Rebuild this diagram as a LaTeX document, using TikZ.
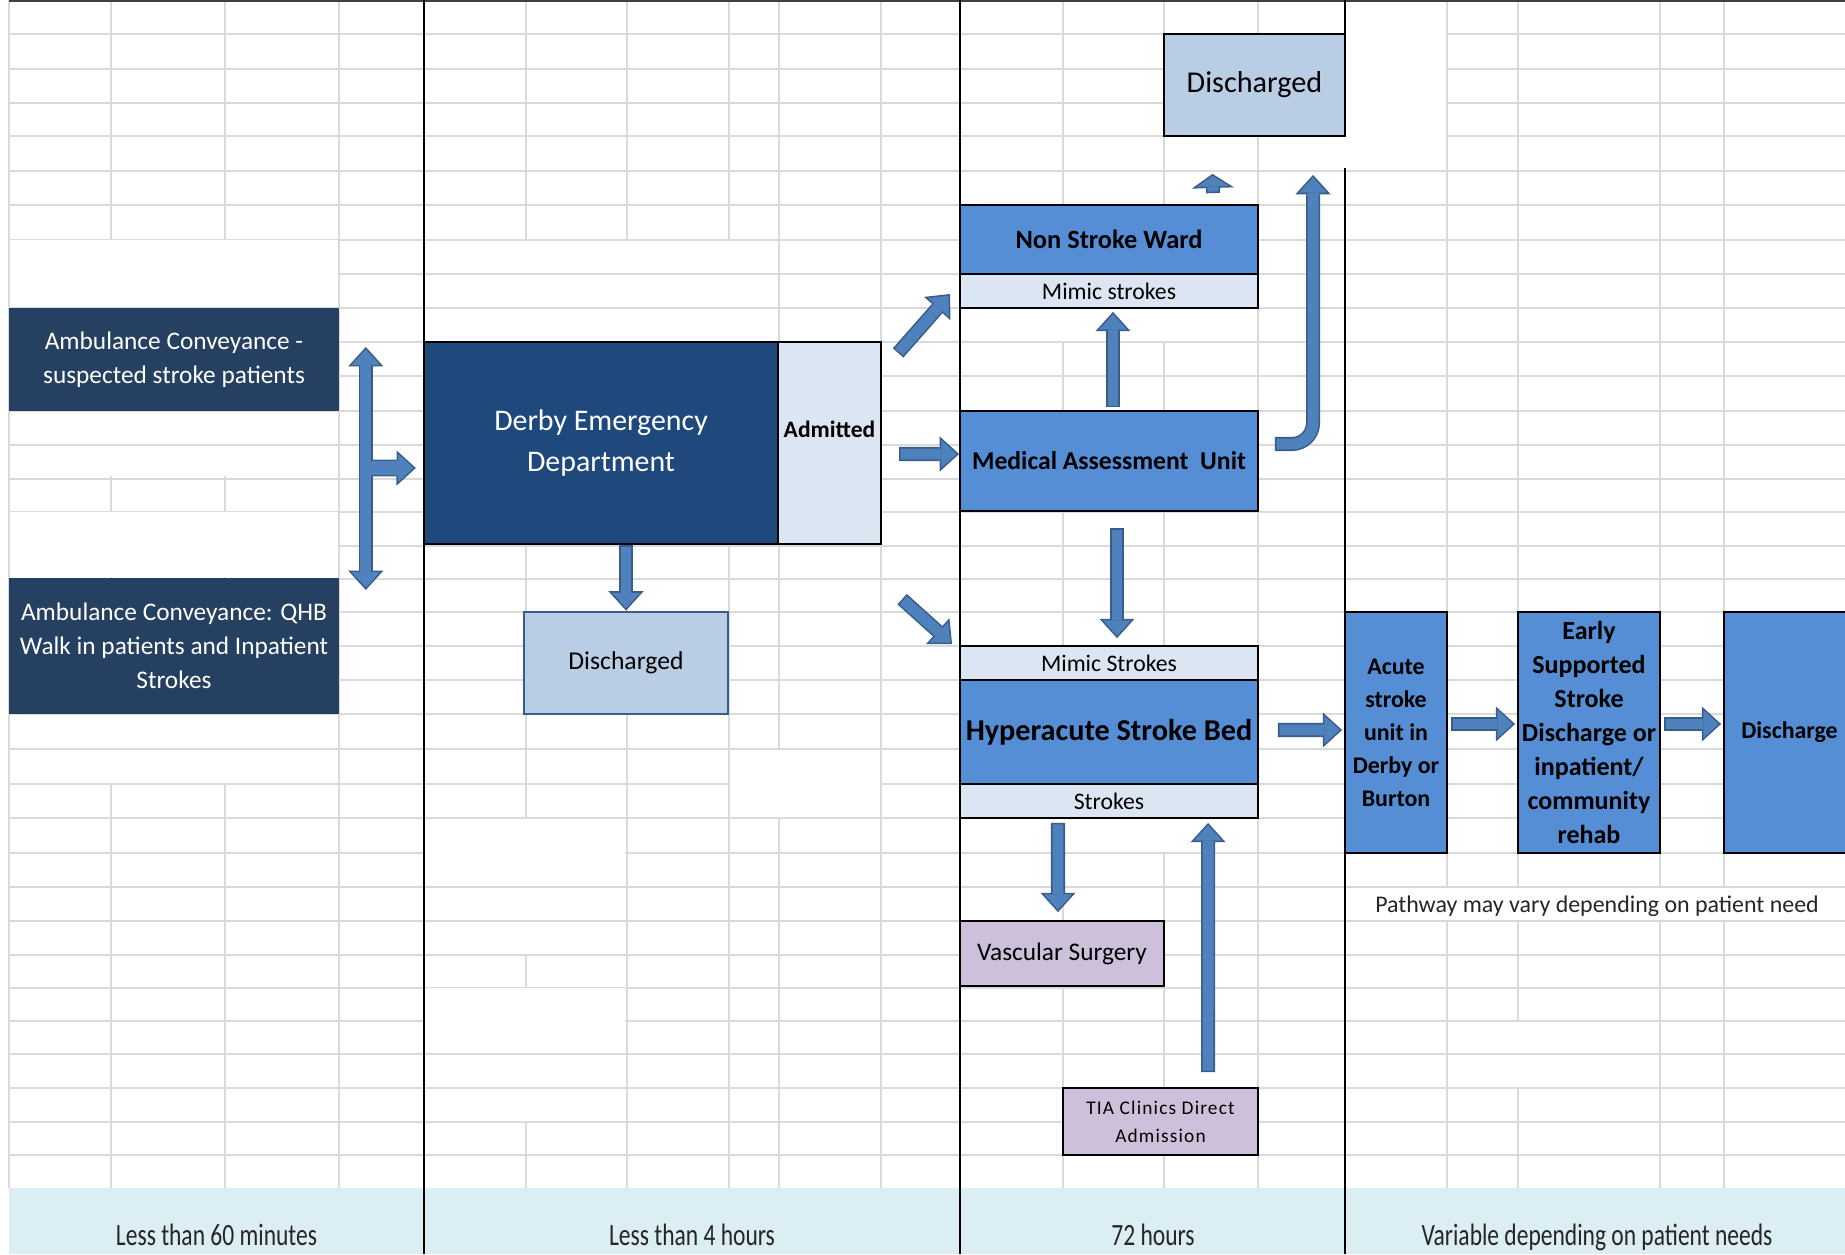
\documentclass[tikz,border=0pt]{standalone}
\usepackage{fontspec}
\setmainfont{Carlito}
\usepackage{graphicx}
\usetikzlibrary{arrows.meta}

\definecolor{ambnavy}{RGB}{37,64,97}
\definecolor{ednavy}{RGB}{31,73,125}
\definecolor{paleblue}{RGB}{185,205,229}
\definecolor{palegrey}{RGB}{220,230,242}
\definecolor{wardblue}{RGB}{85,142,213}
\definecolor{lilac}{RGB}{204,192,218}
\definecolor{arrowfill}{RGB}{79,129,189}
\definecolor{arrowedge}{RGB}{56,93,138}
\definecolor{bandblue}{RGB}{218,238,243}
\definecolor{gridgrey}{RGB}{218,218,218}

\begin{document}
\begin{tikzpicture}[x=0.01cm,y=-0.01cm,inner sep=0pt,
    bigtip/.tip={Triangle[length=5.5pt,width=10pt,line width=0pt]},
    smalltip/.tip={Triangle[length=4.38pt,width=7.96pt,line width=0pt]},
    stubtip/.tip={Triangle[length=4pt,width=12pt,line width=0pt]},
    stubin/.tip={Triangle[length=3pt,width=9pt,line width=0pt]},
    arrowout/.style={draw=arrowedge,line width=4pt},
    arrowin/.style={draw=arrowfill,line width=3.1pt},
    blockarrow/.style={arrowout,-{bigtip},
        postaction={arrowin,-{smalltip},shorten >=0.67pt,shorten <=0.45pt}},
    gridline/.style={draw=gridgrey,line width=0.45pt},
    laneline/.style={draw=black,line width=0.55pt},
    navybox/.style={fill=ambnavy,text=white,align=center,minimum width=3.3cm,
        font=\fontsize{7.2}{9.7}\selectfont},
    edbox/.style={fill=ednavy,draw=black,line width=0.6pt,text=white,align=center,
        minimum width=3.54cm,minimum height=2.02cm,font=\fontsize{8.5}{11.7}\selectfont},
    admbox/.style={fill=palegrey,draw=black,line width=0.6pt,
        minimum width=1.03cm,minimum height=2.02cm,font=\bfseries\fontsize{6.7}{8}\selectfont},
    dischbox/.style={fill=paleblue,minimum height=1.02cm},
    wardbox/.style={fill=wardblue,draw=black,line width=0.5pt,minimum width=2.98cm},
    stripbox/.style={fill=palegrey,draw=black,line width=0.5pt,minimum width=2.98cm,
        minimum height=0.34cm,font=\fontsize{6.75}{8}\selectfont},
    lilacbox/.style={fill=lilac,draw=black,line width=0.5pt,align=center},
    stagebox/.style={fill=wardblue,draw=black,line width=0.5pt,align=center,
        minimum height=2.41cm,font=\bfseries\fontsize{6.8}{9.4}\selectfont},
    lanelabel/.style={anchor=base,text=black!85,font=\fontsize{8.8}{10}\selectfont}]

    \useasboundingbox (0,0) rectangle (1845,1254);

    % spreadsheet grid
    \foreach \y in {34,69,103,136,171,205,240,274,308,342,376,411,445,479,512,546,579,612,646,
                    680,714,749,784,818,853,887,921,955,988,1021,1054,1088,1122,1155}
        \draw[gridline] (9,\y) -- (1845,\y);
    \foreach \x in {9,111,225,339,526,627,729,779,881,1063,1164,1258,1447,1518,1660,1724}
        \draw[gridline] (\x,0) -- (\x,1188);
    % merged cells
    \foreach \xa/\ya/\xb/\yb in {9/239/339/308,9/411/339/445,9/445/339/477,9/511/339/578,
            9/714/339/749,9/749/339/784,424/240/779/274,424/274/779/308,424/308/779/342,
            424/818/626/887,424/887/626/921,424/921/626/955,424/987/626/1054,
            424/1054/626/1088,424/1088/626/1122,729/749/881/818,960/308/1258/342,
            960/818/1258/853,1345/0/1447/170,1345/887/1845/921,1447/1021/1660/1054,
            1447/1054/1660/1088}
        \fill[white] (\xa+1,\ya+1) rectangle (\xb-1,\yb-1);

    \fill[bandblue] (9,1188) rectangle (1845,1254);
    \draw[draw=black!75,line width=0.7pt] (9,1) -- (1845,1);
    \draw[laneline] (424,0) -- (424,1254);
    \draw[laneline] (960,0) -- (960,1254);
    \draw[laneline] (1345,0) -- (1345,136);
    \draw[laneline] (1345,168) -- (1345,1254);

    % boxes
    \node[navybox,minimum height=1.03cm] (amb1) at (174,359.5) {Ambulance Conveyance -\\suspected stroke patients};
    \node[navybox,minimum height=1.36cm] (amb2) at (174,646) {Ambulance Conveyance: QHB\\Walk in patients and Inpatient\\Strokes};

    \node[edbox] (ed) at (601,443) {Derby Emergency\\Department};
    \node[admbox] (adm) at (829.5,443) {\raisebox{0.06cm}[0pt][0pt]{Admitted}};
    \node[dischbox,draw=arrowedge,line width=0.8pt,minimum width=2.04cm,
          font=\fontsize{7.3}{9}\selectfont] (dis1) at (626,663) {Discharged};

    \node[dischbox,draw=black,line width=0.5pt,minimum width=1.81cm,
          font=\fontsize{8.6}{10}\selectfont] (dis2) at (1254.5,85) {Discharged};
    \node[wardbox,minimum height=0.69cm,font=\bfseries\fontsize{7.5}{9}\selectfont] (nsw) at (1109,239.5) {Non Stroke Ward};
    \node[stripbox] (mimic1) at (1109,291) {Mimic strokes};
    \node[wardbox,minimum height=1cm,font=\bfseries\fontsize{7.3}{9}\selectfont] (mau) at (1109,461) {Medical Assessment~ Unit};
    \node[stripbox] (mimic2) at (1109,663) {Mimic Strokes};
    \node[wardbox,minimum height=1.04cm,font=\bfseries\fontsize{8.6}{10}\selectfont] (hsb) at (1109,732) {Hyperacute Stroke Bed};
    \node[stripbox] (strokes) at (1109,801) {Strokes};
    \node[lilacbox,minimum width=2.04cm,minimum height=0.65cm,
          font=\fontsize{7.2}{9}\selectfont] (vasc) at (1062,953.5) {Vascular Surgery};
    \node[lilacbox,minimum width=1.95cm,minimum height=0.67cm,
          font=\fontsize{5.5}{8}\selectfont\addfontfeature{LetterSpace=6}] (tia) at (1160.5,1121.5) {TIA Clinics Direct\\Admission};

    \node[stagebox,minimum width=1.02cm] (acute) at (1396,732.5) {Acute\\stroke\\unit in\\Derby or\\Burton};
    \node[stagebox,minimum width=1.42cm,font=\bfseries\fontsize{7.4}{9.7}\selectfont] (essd) at (1589,732.5)
        {Early\\Supported\\Stroke\\Discharge or\\inpatient/\\community\\rehab};
    \node[stagebox,minimum width=1.31cm] (disch) at (1789.5,732.5) {Discharge};
    \node[text=black!85,font=\fontsize{6.8}{8}\selectfont] (pathway) at (1597,906) {Pathway may vary depending on patient need};

    \node[lanelabel] (lane1) at (216.5,1245) {\scalebox{0.76}[1]{Less than 60 minutes}};
    \node[lanelabel] (lane2) at (692,1245) {\scalebox{0.76}[1]{Less than 4 hours}};
    \node[lanelabel] (lane3) at (1153,1245) {\scalebox{0.76}[1]{72 hours}};
    \node[lanelabel] (lane4) at (1597,1245) {\scalebox{0.76}[1]{Variable depending on patient needs}};

    % arrows
    \coordinate (ttop) at ([xshift=0.26cm,yshift=0.125cm]amb1.east);
    \coordinate (tbot) at ([xshift=0.26cm,yshift=0.56cm]amb2.east);
    \coordinate (split) at (365,468);
    \draw[arrowout,{bigtip}-{bigtip}] (ttop) -- (tbot);
    \draw[arrowout,line width=4.8pt,-{bigtip}] (split) -- ([xshift=-0.07cm,yshift=-0.25cm]ed.west);
    \draw[arrowin,{smalltip}-{smalltip},shorten >=0.67pt,shorten <=0.67pt] (ttop) -- (tbot);
    \draw[arrowin,line width=3.9pt,-{smalltip},shorten >=0.67pt] (split) -- ([xshift=-0.07cm,yshift=-0.25cm]ed.west);

    \draw[blockarrow] (dis1.north |- ed.south) -- (dis1.north);
    \draw[blockarrow] ([xshift=0.16cm,yshift=-0.12cm]adm.north east) -- ([xshift=-0.09cm,yshift=-0.03cm]mimic1.west);
    \draw[blockarrow] ([xshift=0.17cm,yshift=-0.11cm]adm.east) -- ([yshift=0.07cm]mau.west);
    \draw[blockarrow] ([xshift=0.2cm,yshift=-0.54cm]adm.south east) -- ([xshift=-0.07cm,yshift=0.01cm]mimic2.north west);

    \draw[blockarrow] ([xshift=0.04cm,yshift=0.03cm]mau.north) -- ([xshift=0.04cm,yshift=-0.03cm]mimic1.south);
    \draw[arrowout,-{stubtip},postaction={arrowin,-{stubin},shorten >=0.54pt,shorten <=0.45pt}]
        ([xshift=1.04cm,yshift=0.11cm]nsw.north) -- ([xshift=-0.42cm,yshift=-0.37cm]dis2.south);
    \draw[blockarrow,rounded corners=6pt] ([xshift=0.16cm,yshift=0.17cm]mau.east) -| ([xshift=0.585cm,yshift=-0.38cm]dis2.south);
    \draw[blockarrow] ([xshift=0.08cm,yshift=-0.16cm]mau.south) -- ([xshift=0.08cm,yshift=0.07cm]mimic2.north);
    \draw[blockarrow] ([xshift=-0.51cm,yshift=-0.04cm]strokes.south) -- ([xshift=-0.04cm,yshift=0.08cm]vasc.north);
    \draw[blockarrow] ([xshift=0.475cm,yshift=0.15cm]tia.north) -- ([xshift=0.99cm,yshift=-0.04cm]strokes.south);

    \draw[blockarrow] ([xshift=0.19cm,yshift=0.02cm]hsb.east) -- ([xshift=-0.02cm,yshift=0.025cm]acute.west);
    \draw[blockarrow] ([xshift=0.03cm,yshift=0.085cm]acute.east) -- ([xshift=-0.02cm,yshift=0.085cm]essd.west);
    \draw[blockarrow] ([xshift=0.03cm,yshift=0.085cm]essd.east) -- ([xshift=-0.02cm,yshift=0.085cm]disch.west);

\end{tikzpicture}
\end{document}
